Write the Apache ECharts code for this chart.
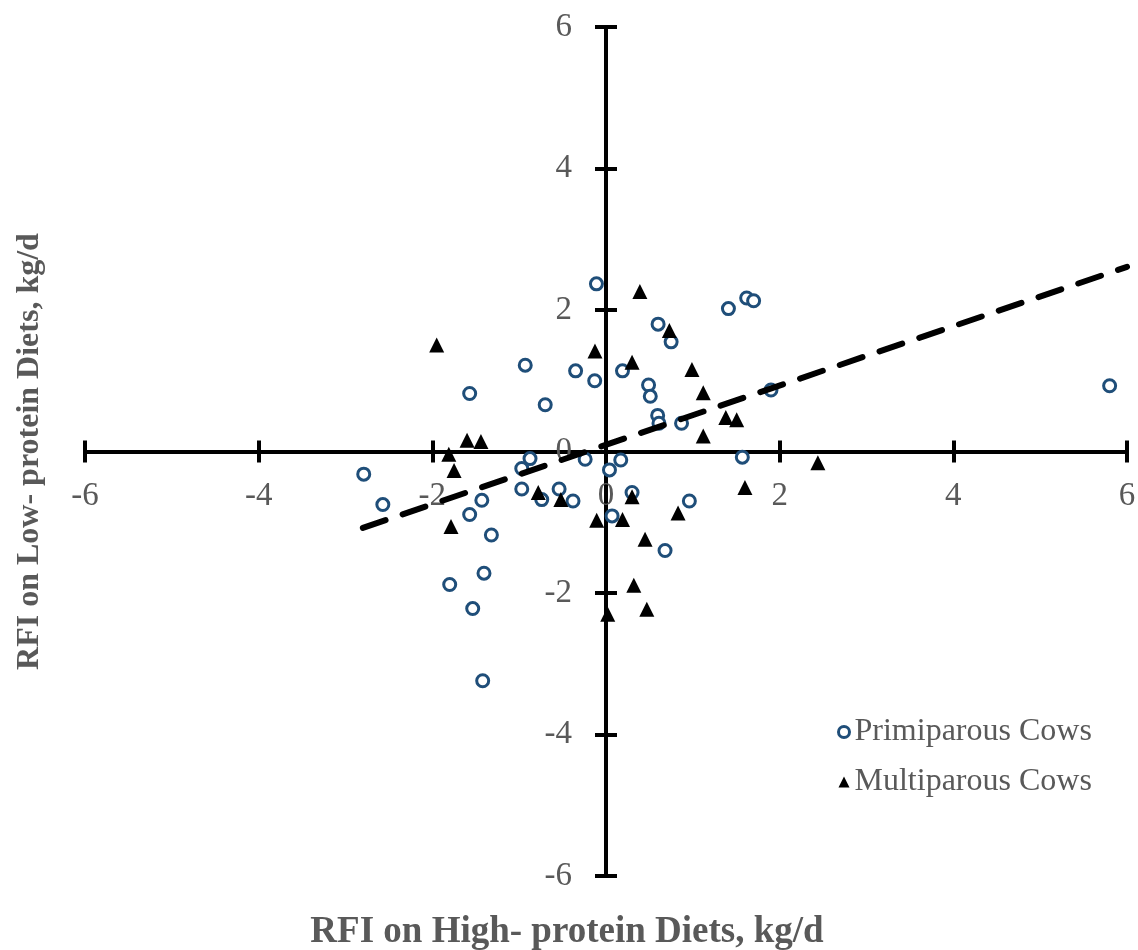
<!DOCTYPE html>
<html>
<head>
<meta charset="utf-8">
<script src="https://cdn.jsdelivr.net/npm/echarts@6/dist/echarts.min.js"></script>
<style>html,body{margin:0;padding:0;background:#fff}#c{width:1138px;height:950px}</style>
</head>
<body>
<div id="c"></div>
<script>
// Primiparous cows [RFI high-protein, RFI low-protein]
var primiparous = [
  [-0.11, 2.37], [-0.93, 1.22], [-0.35, 1.14], [-0.13, 1.00], [0.19, 1.14],
  [-1.57, 0.82], [-0.70, 0.66], [-2.79, -0.32], [-2.57, -0.75], [-0.875, -0.10],
  [-0.97, -0.24], [-0.24, -0.11], [0.04, -0.26], [0.17, -0.12], [-0.97, -0.53],
  [-0.74, -0.68], [-0.54, -0.53], [-0.38, -0.70], [-1.43, -0.69], [-1.57, -0.89],
  [-1.32, -1.18], [0.07, -0.91], [-1.80, -1.88], [-1.405, -1.72], [-1.535, -2.22],
  [-1.42, -3.24], [0.68, -1.40], [1.41, 2.02], [1.62, 2.17], [1.70, 2.13],
  [0.60, 1.80], [0.75, 1.55], [0.49, 0.94], [0.51, 0.78], [1.90, 0.87],
  [0.595, 0.51], [0.61, 0.40], [0.87, 0.40], [1.57, -0.08], [0.30, -0.58],
  [0.96, -0.70], [5.80, 0.93]
];
// Multiparous cows
var multiparous = [
  [0.39, 2.26], [0.73, 1.71], [0.30, 1.26], [0.99, 1.16], [1.12, 0.83],
  [1.38, 0.48], [1.505, 0.45], [1.12, 0.22], [2.44, -0.16], [1.60, -0.51],
  [0.30, -0.64], [0.83, -0.87], [0.19, -0.96], [0.45, -1.24], [0.32, -1.89],
  [0.47, -2.23], [0.02, -2.30], [-1.95, 1.505], [-0.127, 1.42], [-1.60, 0.16],
  [-1.44, 0.14], [-1.81, -0.04], [-1.75, -0.27], [-0.78, -0.58], [-0.52, -0.68],
  [-1.785, -1.06], [-0.107, -0.97]
];
// Trend line endpoints
var trendX = [-2.8, 6.0];
var trendY = [-1.08, 2.61];
var xTicks = [-6, 6, 2];
var yTicks = [-6, 6, 2];
var xTitle = 'RFI on High- protein Diets, kg/d';
var yTitle = 'RFI on Low- protein Diets, kg/d';
var seriesNames = ['Primiparous Cows', 'Multiparous Cows'];

var FONT = "'Liberation Serif', 'Times New Roman', serif";
var GRAY = '#595959';
var lineStyle = {color: '#000', width: 4};
var GRID = {left: 85, right: 11, top: 27, bottom: 74};
var W = 1138, H = 950;
var gridW = W - GRID.left - GRID.right;
var gridH = H - GRID.top - GRID.bottom;
// axes cross at zero: shift the axis lines from the grid edge to the zero position
var xOffset = -gridH * (0 - yTicks[0]) / (yTicks[1] - yTicks[0]);
var yOffset = -gridW * (0 - xTicks[0]) / (xTicks[1] - xTicks[0]);

function xAxisDef(inside, main) {
  return {
    type: 'value', min: xTicks[0], max: xTicks[1], interval: xTicks[2],
    position: 'bottom', offset: xOffset,
    axisLine: {show: true, onZero: false, lineStyle: lineStyle},
    axisTick: {show: true, inside: inside, length: 11, lineStyle: lineStyle},
    axisLabel: {show: main, margin: 28, fontSize: 33, color: GRAY, fontFamily: FONT},
    splitLine: {show: false},
    name: main ? xTitle : '', nameLocation: 'middle', nameGap: 462,
    nameTextStyle: {fontSize: 37, fontWeight: 'bold', color: GRAY, fontFamily: FONT, padding: [0, 78, 0, 0]}
  };
}
function yAxisDef(inside, main) {
  return {
    type: 'value', min: yTicks[0], max: yTicks[1], interval: yTicks[2],
    position: 'left', offset: yOffset,
    axisLine: {show: true, onZero: false, lineStyle: lineStyle},
    axisTick: {show: true, inside: inside, length: 11, lineStyle: lineStyle},
    axisLabel: {show: main, margin: 34, fontSize: 33, color: GRAY, fontFamily: FONT},
    splitLine: {show: false},
    name: main ? yTitle : '', nameLocation: 'middle', nameRotate: 90, nameGap: 560,
    nameTextStyle: {fontSize: 32, fontWeight: 'bold', color: GRAY, fontFamily: FONT}
  };
}

var chart = echarts.init(document.getElementById('c'), null, {renderer: 'canvas'});
chart.setOption({
  animation: false,
  backgroundColor: '#fff',
  grid: {left: GRID.left, right: GRID.right, top: GRID.top, bottom: GRID.bottom, containLabel: false, outerBoundsMode: 'none'},
  xAxis: [xAxisDef(false, true), xAxisDef(true, false)],
  yAxis: [yAxisDef(false, true), yAxisDef(true, false)],
  legend: {
    orient: 'vertical', left: 832, top: 711, itemWidth: 11, itemHeight: 11, itemGap: 18,
    textStyle: {fontSize: 32, color: GRAY, fontFamily: FONT},
    data: [
      {name: seriesNames[0], icon: 'circle', itemStyle: {color: '#fff', borderColor: '#1f4e79', borderWidth: 3, opacity: 1}},
      {name: seriesNames[1], icon: 'triangle', itemStyle: {color: '#000', borderWidth: 0, opacity: 1}}
    ]
  },
  series: [
    {
      name: seriesNames[0], type: 'scatter', xAxisIndex: 0, yAxisIndex: 0,
      symbol: 'circle', symbolSize: 12, data: primiparous,
      itemStyle: {color: '#fff', borderColor: '#1f4e79', borderWidth: 3, opacity: 1}, z: 2
    },
    {
      name: seriesNames[1], type: 'scatter', xAxisIndex: 0, yAxisIndex: 0,
      symbol: 'triangle', symbolSize: 15, data: multiparous,
      itemStyle: {color: '#000', opacity: 1}, z: 3
    },
    {
      name: 'Trend', type: 'line', xAxisIndex: 0, yAxisIndex: 0,
      data: [[trendX[0], trendY[0]], [trendX[1], trendY[1]]],
      symbol: 'none', silent: true, z: 4,
      lineStyle: {color: '#000', width: 6, type: [24, 18], cap: 'round'}
    }
  ]
});
</script>
</body>
</html>
